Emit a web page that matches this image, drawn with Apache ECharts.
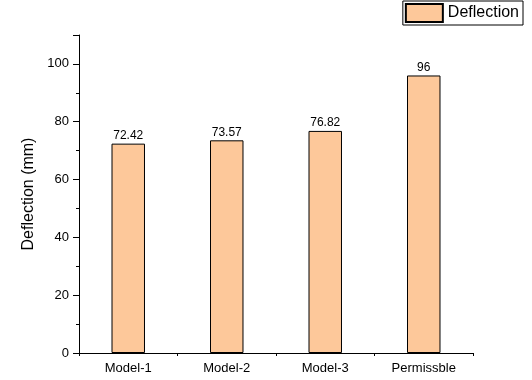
<!DOCTYPE html>
<html><head><meta charset="utf-8">
<script src="https://cdn.jsdelivr.net/npm/echarts@6/dist/echarts.min.js"></script>
<style>html,body{margin:0;padding:0;background:#fff}#c{width:532px;height:380px}</style>
</head><body><div id="c"></div>
<script>
const categories = ['Model-1', 'Model-2', 'Model-3', 'Permissble'];
const deflection = [72.42, 73.57, 76.82, 96];
const seriesName = 'Deflection';
const yTicks = [0, 20, 40, 60, 80, 100];

const font = 'Arial, "Liberation Sans", sans-serif';
const chart = echarts.init(document.getElementById('c'));
chart.setOption({
  animation: false,
  backgroundColor: '#fff',
  legend: {
    show: true,
    right: 9, top: 1,
    icon: 'rect',
    itemWidth: 37, itemHeight: 18,
    itemGap: 4,
    padding: [2, 4, 2, 2],
    borderColor: '#000', borderWidth: 1,
    textStyle: { fontFamily: font, fontSize: 16, color: '#000' },
    data: [seriesName]
  },
  grid: { left: 79, right: 59, top: 35, bottom: 27 },
  xAxis: [{
    type: 'category',
    data: categories,
    axisLine: { lineStyle: { color: '#000', width: 1 } },
    axisTick: { alignWithLabel: true, length: 5, lineStyle: { color: '#000' } },
    axisLabel: { color: '#000', fontFamily: font, fontSize: 13, margin: 9 }
  }, {
    type: 'category',
    data: categories,
    position: 'bottom',
    axisLine: { show: false },
    axisTick: { show: true, length: 3, lineStyle: { color: '#000' } },
    axisLabel: { show: false }
  }],
  yAxis: {
    type: 'value',
    min: 0, max: 110, interval: 20,
    name: 'Deflection (mm)',
    nameLocation: 'middle',
    nameGap: 39,
    nameTextStyle: { color: '#000', fontFamily: font, fontSize: 16 },
    axisLine: { show: true, lineStyle: { color: '#000' } },
    axisTick: { show: true, length: 6, lineStyle: { color: '#000' } },
    minorTick: { show: true, splitNumber: 2, length: 3, lineStyle: { color: '#000' } },
    splitLine: { show: false },
    axisLabel: {
      color: '#000', fontFamily: font, fontSize: 13, margin: 10,
      formatter: v => yTicks.includes(v) ? String(v) : ''
    }
  },
  series: [{
    name: seriesName,
    type: 'bar',
    data: deflection,
    barWidth: '34%',
    itemStyle: { color: '#FDC89A', borderColor: '#000', borderWidth: 1 },
    label: { show: true, position: 'top', distance: 2, color: '#000', fontFamily: font, fontSize: 12 }
  }]
});
</script></body></html>
